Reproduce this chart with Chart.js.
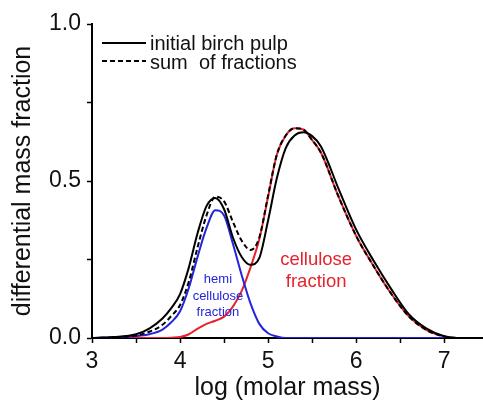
<!DOCTYPE html>
<html>
<head>
<meta charset="utf-8">
<script src="https://cdn.jsdelivr.net/npm/chart.js@4.4.1/dist/chart.umd.min.js"></script>
<style>
  html, body { margin: 0; padding: 0; background: #fff; }
  #wrap { width: 483px; height: 403px; }
</style>
</head>
<body>
<div id="wrap"><canvas id="mmd_chart" width="483" height="403"></canvas></div>
<script>
// log(M) grid shared by all curves
const logM = [3.0, 3.25, 3.5, 3.65, 3.8, 3.9, 4.0, 4.1, 4.2, 4.3, 4.4, 4.5, 4.6, 4.7, 4.8, 4.9,
              5.0, 5.1, 5.2, 5.3, 5.4, 5.5, 5.6, 5.8, 6.0, 6.2, 6.4, 6.6, 6.8, 7.0, 7.2, 7.44];

// differential mass fraction
const initialPulp = [0.0, 0.003, 0.012, 0.03, 0.062, 0.095, 0.14, 0.225, 0.335, 0.42, 0.446, 0.41, 0.32, 0.258, 0.233, 0.255,
                     0.375, 0.51, 0.605, 0.645, 0.655, 0.643, 0.61, 0.475, 0.345, 0.245, 0.155, 0.075, 0.03, 0.006, 0.0, 0.0];
const fractionSum = [0.0, 0.002, 0.008, 0.02, 0.042, 0.07, 0.105, 0.18, 0.29, 0.39, 0.45, 0.435, 0.37, 0.31, 0.28, 0.32,
                     0.455, 0.585, 0.645, 0.668, 0.664, 0.63, 0.59, 0.45, 0.325, 0.228, 0.14, 0.068, 0.025, 0.005, 0.0, 0.0];
const hemiFraction = [0.0, 0.002, 0.006, 0.012, 0.027, 0.05, 0.085, 0.16, 0.26, 0.35, 0.407, 0.39, 0.30, 0.2, 0.11, 0.045,
                      0.015, 0.005, 0.0, 0.0, 0.0, 0.0, 0.0, 0.0, 0.0, 0.0, 0.0, 0.0, 0.0, 0.0, 0.0, 0.0];
const celluloseFraction = [0.0, 0.0, 0.0, 0.0, 0.0, 0.001, 0.003, 0.012, 0.03, 0.045, 0.055, 0.068, 0.1, 0.15, 0.225, 0.315,
                           0.45, 0.585, 0.645, 0.668, 0.664, 0.63, 0.59, 0.45, 0.325, 0.228, 0.14, 0.068, 0.025, 0.005, 0.0, 0.0];

// tick marks (labelled ones are listed separately)
const xTickMarks = [3, 3.5, 4, 4.5, 5, 5.5, 6, 6.5, 7];
const xTicks = [3, 4, 5, 6, 7];
const yTicks = [0.0, 0.5, 1.0];

const legendLabels = ['initial birch pulp', 'sum  of fractions'];
const hemiLabel = ['hemi', 'cellulose', 'fraction'];
const celluloseLabel = ['cellulose', 'fraction'];

const FONT = 'Liberation Sans, Arial, Helvetica, sans-serif';
const BLUE = '#2424dc';
const RED = '#e8222c';

Chart.defaults.font.family = FONT;
Chart.defaults.color = '#111';

function toPoints(ys){
    return logM.map((x, i) => ({x: x, y: ys[i]}));
}

// legend in the upper left plus the text labels next to the curves
const notesPlugin = {
    id: 'notes',
    afterDatasetsDraw(chart){
        const ctx = chart.ctx;
        const xs = chart.scales.x, ys = chart.scales.y;
        const left = chart.chartArea.left;
        ctx.save();

        // legend
        ctx.strokeStyle = '#000';
        ctx.lineWidth = 2;
        ctx.beginPath();
        ctx.moveTo(left + 10, 43); ctx.lineTo(left + 54, 43);
        ctx.stroke();
        ctx.setLineDash([5, 3]);
        ctx.beginPath();
        ctx.moveTo(left + 10, 61); ctx.lineTo(left + 54, 61);
        ctx.stroke();
        ctx.setLineDash([]);
        ctx.fillStyle = '#111';
        ctx.font = '20px ' + FONT;
        ctx.textAlign = 'left';
        ctx.textBaseline = 'alphabetic';
        ctx.fillText(legendLabels[0], left + 58, 50);
        ctx.fillText(legendLabels[1], left + 58, 69);

        // curve labels
        ctx.textAlign = 'center';
        ctx.textBaseline = 'middle';
        ctx.fillStyle = BLUE;
        ctx.font = '13px ' + FONT;
        const hemiY = [0.185, 0.131, 0.083];
        hemiLabel.forEach((t, i) => ctx.fillText(t, xs.getPixelForValue(4.43), ys.getPixelForValue(hemiY[i])));

        ctx.fillStyle = RED;
        ctx.font = '18.5px ' + FONT;
        const cellY = [0.248, 0.178];
        celluloseLabel.forEach((t, i) => ctx.fillText(t, xs.getPixelForValue(5.545), ys.getPixelForValue(cellY[i])));
        ctx.restore();
    }
};

const ctx = document.getElementById('mmd_chart').getContext('2d');
const chart = new Chart(ctx, {
    type: 'line',
    data: {
        datasets: [{
            label: legendLabels[1],
            data: toPoints(fractionSum),
            borderColor: '#000',
            borderWidth: 2,
            borderDash: [5, 3]
        }, {
            label: legendLabels[0],
            data: toPoints(initialPulp),
            borderColor: '#000',
            borderWidth: 2
        }, {
            label: 'hemicellulose fraction',
            data: toPoints(hemiFraction),
            borderColor: BLUE,
            borderWidth: 2
        }, {
            label: 'cellulose fraction',
            data: toPoints(celluloseFraction),
            borderColor: RED,
            borderWidth: 2
        }]
    },
    options: {
        responsive: false,
        animation: false,
        layout: { padding: { top: 24, right: 0, bottom: 0, left: 0 } },
        elements: {
            point: { radius: 0 },
            line: { cubicInterpolationMode: 'monotone', fill: false }
        },
        plugins: {
            legend: { display: false },
            tooltip: { enabled: false }
        },
        scales: {
            x: {
                type: 'linear',
                min: 3,
                max: 7.44,
                afterBuildTicks: (scale) => {
                    scale.ticks = xTickMarks.map(v => ({value: v}));
                },
                afterFit: (scale) => { scale.height = 65; },
                grid: { drawOnChartArea: false, tickLength: 5, color: '#000', tickWidth: 1.5 },
                border: { color: '#000', width: 2 },
                ticks: {
                    autoSkip: false,
                    maxRotation: 0,
                    padding: 5,
                    color: '#111',
                    font: { size: 23 },
                    callback: (v) => xTicks.includes(v) ? String(v) : ''
                },
                title: {
                    display: true,
                    text: 'log (molar mass)',
                    color: '#111',
                    font: { size: 25 },
                    padding: { top: 0, bottom: 0 }
                }
            },
            y: {
                min: 0,
                max: 1,
                afterFit: (scale) => { scale.width = 92; },
                grid: { drawOnChartArea: false, tickLength: 5, color: '#000', tickWidth: 1.5 },
                border: { color: '#000', width: 2 },
                ticks: {
                    stepSize: 0.25,
                    padding: 6,
                    color: '#111',
                    font: { size: 23 },
                    callback: (v) => yTicks.includes(v) ? v.toFixed(1) : ''
                },
                title: {
                    display: true,
                    text: 'differential mass fraction',
                    color: '#111',
                    font: { size: 25 },
                    padding: { top: 8, bottom: 0 }
                }
            }
        }
    },
    plugins: [notesPlugin]
});
</script>
</body>
</html>
